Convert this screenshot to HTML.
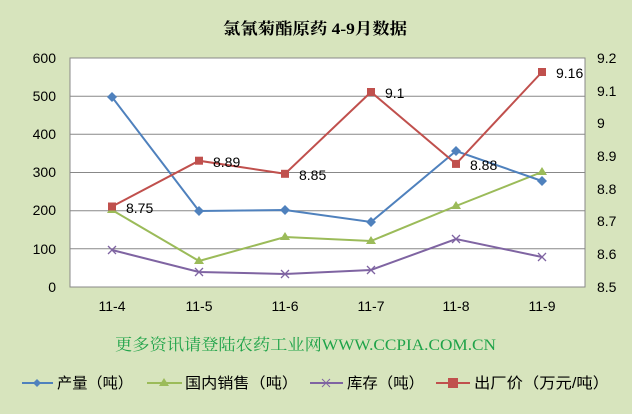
<!DOCTYPE html><html><head><meta charset="utf-8"><style>
body{margin:0;background:#d7e4bd;}
svg{display:block;font-family:"Liberation Sans","Noto Sans CJK SC",sans-serif;}
</style></head><body>
<svg width="632" height="414" viewBox="0 0 632 414">
<rect width="632" height="414" fill="#d7e4bd"/>
<text x="223" y="34" font-size="16" font-weight="bold" textLength="184" lengthAdjust="spacingAndGlyphs" font-family="'Liberation Serif','Noto Serif CJK SC',serif">氯氰菊酯原药 4-9月数据</text>
<rect x="70" y="58" width="515" height="229" fill="#fff" stroke="#888"/>
<g stroke="#888" stroke-width="1">
<line x1="70" x2="585" y1="96.2" y2="96.2"/><line x1="70" x2="585" y1="134.3" y2="134.3"/>
<line x1="70" x2="585" y1="172.5" y2="172.5"/><line x1="70" x2="585" y1="210.7" y2="210.7"/>
<line x1="70" x2="585" y1="248.8" y2="248.8"/>
</g>
<g font-size="14" text-anchor="end">
<text x="56" y="63">600</text><text x="56" y="101">500</text><text x="56" y="139">400</text><text x="56" y="177">300</text><text x="56" y="215">200</text><text x="56" y="254">100</text><text x="56" y="292">0</text>
</g>
<g font-size="14">
<text x="597" y="63">9.2</text><text x="597" y="96">9.1</text><text x="597" y="128">9</text><text x="597" y="161">8.9</text><text x="597" y="194">8.8</text><text x="597" y="226">8.7</text><text x="597" y="259">8.6</text><text x="597" y="292">8.5</text>
</g>
<g font-size="14" text-anchor="middle">
<text x="112" y="311">11-4</text><text x="199" y="311">11-5</text><text x="285" y="311">11-6</text><text x="371" y="311">11-7</text><text x="456" y="311">11-8</text><text x="542" y="311">11-9</text>
</g>
<polyline fill="none" stroke="#7f64a2" stroke-width="2" points="112,250 199,272 285,274 371,270 456,239 542,257"/>
<g stroke="#7f64a2" stroke-width="1.3">
<path d="M108,246l8,8M116,246l-8,8M195,268l8,8M203,268l-8,8M281,270l8,8M289,270l-8,8M367,266l8,8M375,266l-8,8M452,235l8,8M460,235l-8,8M538,253l8,8M546,253l-8,8"/>
</g>
<polyline fill="none" stroke="#9bbb59" stroke-width="2" points="112,210 199,261 285,237 371,241 456,206 542,172"/>
<g fill="#9bbb59">
<path d="M112,205l5,8h-10z"/><path d="M199,256l5,8h-10z"/><path d="M285,232l5,8h-10z"/><path d="M371,236l5,8h-10z"/><path d="M456,201l5,8h-10z"/><path d="M542,167l5,8h-10z"/>
</g>
<polyline fill="none" stroke="#4f81bd" stroke-width="2" points="112,97 199,211 285,210 371,222 456,151 542,181"/>
<g fill="#4f81bd">
<path d="M112,92l5,5-5,5-5-5z"/><path d="M199,206l5,5-5,5-5-5z"/><path d="M285,205l5,5-5,5-5-5z"/><path d="M371,217l5,5-5,5-5-5z"/><path d="M456,146l5,5-5,5-5-5z"/><path d="M542,176l5,5-5,5-5-5z"/>
</g>
<polyline fill="none" stroke="#c0504d" stroke-width="2" points="112,206.5 199,160.7 285,173.8 371,92 456,163.9 542,72"/>
<g fill="#c0504d">
<rect x="108" y="202.5" width="8" height="8"/><rect x="195" y="156.7" width="8" height="8"/><rect x="281" y="169.8" width="8" height="8"/><rect x="367" y="88" width="8" height="8"/><rect x="452" y="159.9" width="8" height="8"/><rect x="538" y="68" width="8" height="8"/>
</g>
<g font-size="14">
<text x="126" y="213">8.75</text><text x="213" y="167">8.89</text><text x="299" y="180">8.85</text><text x="385" y="98">9.1</text><text x="470" y="170">8.88</text><text x="556" y="78">9.16</text>
</g>
<text x="115" y="350" font-size="16" fill="#1fa349" textLength="381" lengthAdjust="spacingAndGlyphs" font-family="'Liberation Serif','Noto Serif CJK SC',serif">更多资讯请登陆农药工业网WWW.CCPIA.COM.CN</text>
<g font-size="15">
<line x1="22" x2="53" y1="383" y2="383" stroke="#4f81bd" stroke-width="2"/><path d="M37,379l4,4-4,4-4-4z" fill="#4f81bd"/>
<text x="57" y="388" textLength="76" lengthAdjust="spacingAndGlyphs">产量（吨）</text>
<line x1="147" x2="182" y1="383" y2="383" stroke="#9bbb59" stroke-width="2"/><path d="M164,378l5,8h-10z" fill="#9bbb59"/>
<text x="185" y="388" textLength="113" lengthAdjust="spacingAndGlyphs">国内销售（吨）</text>
<line x1="310" x2="343" y1="383" y2="383" stroke="#7f64a2" stroke-width="2"/><path d="M322,379l8,8M330,379l-8,8" stroke="#7f64a2"/>
<text x="347" y="388" textLength="77" lengthAdjust="spacingAndGlyphs">库存（吨）</text>
<line x1="436" x2="470" y1="383" y2="383" stroke="#c0504d" stroke-width="2"/><rect x="448" y="378" width="10" height="10" fill="#c0504d"/>
<text x="474" y="388" textLength="135" lengthAdjust="spacingAndGlyphs">出厂价（万元/吨）</text>
</g>
</svg>
</body></html>
